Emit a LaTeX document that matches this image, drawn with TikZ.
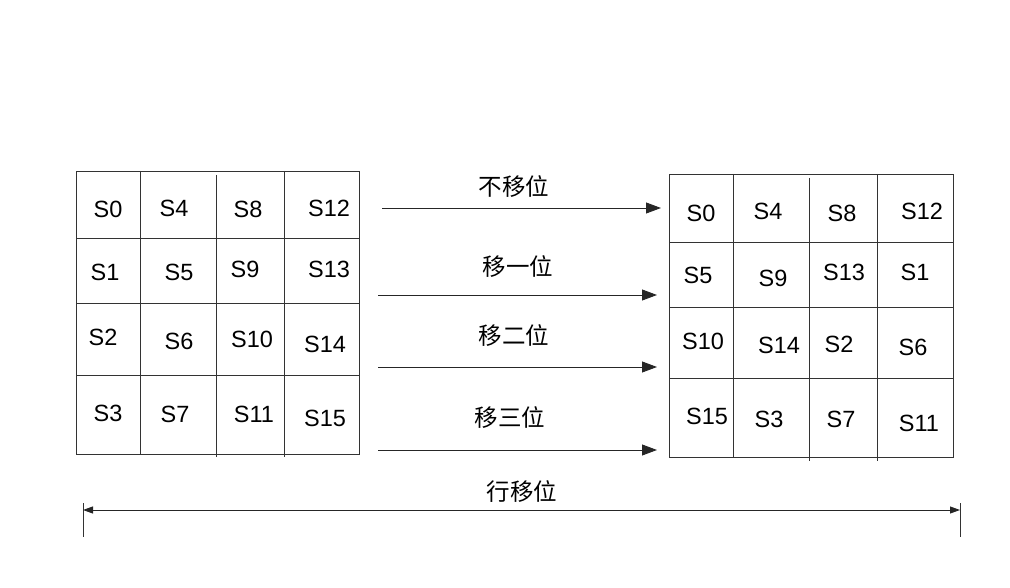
\documentclass[tikz,border=0pt]{standalone}
\usepackage{fontspec}
\setmainfont{Liberation Sans}
\newfontfamily\cjk{Noto Sans CJK SC}
\usetikzlibrary{arrows.meta}
\begin{document}
\begin{tikzpicture}[x=1pt,y=-1pt,
  gridline/.style={draw=black!80,line width=0.9pt},
  cell/.style={inner sep=0pt,font=\fontsize{23.5}{23.5}\selectfont},
  lab/.style={inner sep=0pt,font=\cjk\fontsize{23.5}{23.5}\selectfont},
  shiftarrow/.style={draw=black!85,line width=0.9pt,-{Triangle[length=15pt,width=11pt]}},
  dimarrow/.style={draw=black!85,line width=0.9pt,{Triangle[length=10pt,width=7pt]}-{Triangle[length=10pt,width=7pt]}}]
\useasboundingbox (0,0) rectangle (1010,588);
% left grid
\draw[gridline] (76,171) rectangle (359,454);
\draw[gridline] (76,238) -- (359,238);
\draw[gridline] (76,303) -- (359,303);
\draw[gridline] (76,375) -- (359,375);
\draw[gridline] (140,171) -- (140,454);
\draw[gridline] (216,175) -- (216,457);
\draw[gridline] (284,171) -- (284,457);
\node[cell] (l0) at (108,209) {S0};
\node[cell] (l4) at (174,208) {S4};
\node[cell] (l8) at (248,209) {S8};
\node[cell] (l12) at (329,208) {S12};
\node[cell] (l1) at (105,272) {S1};
\node[cell] (l5) at (179,272) {S5};
\node[cell] (l9) at (245,269) {S9};
\node[cell] (l13) at (329,269) {S13};
\node[cell] (l2) at (103,337) {S2};
\node[cell] (l6) at (179,341) {S6};
\node[cell] (l10) at (252,339) {S10};
\node[cell] (l14) at (325,344) {S14};
\node[cell] (l3) at (108,413) {S3};
\node[cell] (l7) at (175,414) {S7};
\node[cell] (l11) at (254,414) {S11};
\node[cell] (l15) at (325,418) {S15};
% right grid
\draw[gridline] (669,174) rectangle (953,457);
\draw[gridline] (669,242) -- (953,242);
\draw[gridline] (669,307) -- (953,307);
\draw[gridline] (669,378) -- (953,378);
\draw[gridline] (733,174) -- (733,457);
\draw[gridline] (809,178) -- (809,461);
\draw[gridline] (877,174) -- (877,461);
\node[cell] (r0) at (701,213) {S0};
\node[cell] (r4) at (768,211) {S4};
\node[cell] (r8) at (842,213) {S8};
\node[cell] (r12) at (922,211) {S12};
\node[cell] (r5) at (698,275) {S5};
\node[cell] (r9) at (773,278) {S9};
\node[cell] (r13) at (844,272) {S13};
\node[cell] (r1) at (915,272) {S1};
\node[cell] (r10) at (703,341) {S10};
\node[cell] (r14) at (779,345) {S14};
\node[cell] (r2) at (839,344) {S2};
\node[cell] (r6) at (913,347) {S6};
\node[cell] (r15) at (707,416) {S15};
\node[cell] (r3) at (769,419) {S3};
\node[cell] (r7) at (841,419) {S7};
\node[cell] (r11) at (919,423) {S11};
% shift arrows
\coordinate (a0s) at (382,208); \coordinate (a0e) at (661,208);
\coordinate (a1s) at (378,295); \coordinate (a1e) at (657,295);
\coordinate (a2s) at (378,367); \coordinate (a2e) at (657,367);
\coordinate (a3s) at (378,450); \coordinate (a3e) at (657,450);
\draw[shiftarrow] (a0s) -- (a0e);
\draw[shiftarrow] (a1s) -- (a1e);
\draw[shiftarrow] (a2s) -- (a2e);
\draw[shiftarrow] (a3s) -- (a3e);
\node[lab] (t0) at (514,187) {不移位};
\node[lab] (t1) at (518,267) {移一位};
\node[lab] (t2) at (514,336) {移二位};
\node[lab] (t3) at (510,418) {移三位};
% bottom dimension
\coordinate (dl) at (83,510); \coordinate (dr) at (960,510);
\draw[gridline] (83,503) -- (83,537);
\draw[gridline] (960,503) -- (960,537);
\draw[dimarrow] (dl) -- (dr);
\node[lab] (tb) at (522,492) {行移位};
\end{tikzpicture}
\end{document}
